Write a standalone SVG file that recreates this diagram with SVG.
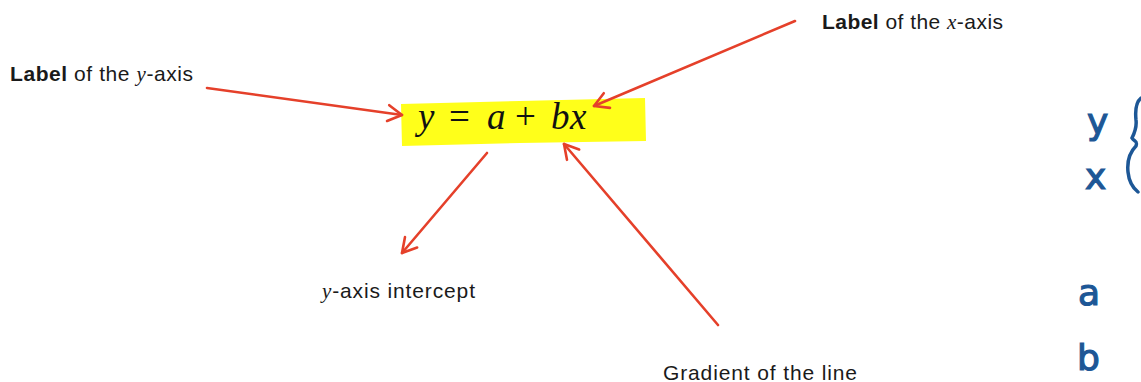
<svg xmlns="http://www.w3.org/2000/svg" width="1141" height="382" viewBox="0 0 1141 382">
<defs>
<style>
.lbl{font-family:"Liberation Sans",Arial,sans-serif;font-size:21px;fill:#1a1a1a}
.b{font-weight:bold}
.m{font-family:"Liberation Serif","Times New Roman",serif;font-style:italic}
.eq{font-family:"Liberation Serif","Times New Roman",serif;font-size:37px;fill:#111}
.arr{stroke:#e5402a;stroke-width:2.6;fill:none;stroke-linecap:round;marker-end:url(#ah)}
.hw{font-family:"DejaVu Sans",sans-serif;font-size:36px;fill:#1d5796;stroke:#1d5796;stroke-width:1.2}
</style>
<marker id="ah" viewBox="-16 -10 18 20" markerWidth="18" markerHeight="20" refX="0" refY="0" orient="auto" markerUnits="userSpaceOnUse">
<path d="M-14,-8 L0,0 L-14,8" fill="none" stroke="#e5402a" stroke-width="2.6" stroke-linecap="round" stroke-linejoin="round"/>
</marker>
</defs>
<rect width="1141" height="382" fill="#fff"/>

<g id="equation">
<path d="M401,104 L520,101 L645,98 L646,141 L520,143 L402,146 Z" fill="#ffff1a"/>
<text class="eq" y="129"><tspan class="m" x="418">y</tspan><tspan x="449">=</tspan><tspan class="m" x="487">a</tspan><tspan x="515">+</tspan><tspan class="m" x="551">b</tspan><tspan class="m" x="570">x</tspan></text>
</g>

<g id="label-y">
<text class="lbl" x="10" y="81" textLength="183" lengthAdjust="spacing"><tspan class="b">Label</tspan> of the <tspan class="m">y</tspan>-axis</text>
</g>
<g id="label-x">
<text class="lbl" x="822" y="29" textLength="181" lengthAdjust="spacing"><tspan class="b">Label</tspan> of the <tspan class="m">x</tspan>-axis</text>
</g>
<g id="intercept">
<text class="lbl" x="322" y="298" textLength="153" lengthAdjust="spacing"><tspan class="m">y</tspan>-axis intercept</text>
</g>
<g id="gradient">
<text class="lbl" x="663" y="380" textLength="194" lengthAdjust="spacing">Gradient of the line</text>
</g>

<g id="connectors">
<line class="arr" x1="207" y1="88" x2="402" y2="115"/>
<line class="arr" x1="795" y1="21" x2="594" y2="106"/>
<line class="arr" x1="487" y1="153" x2="402" y2="253"/>
<line class="arr" x1="718" y1="325" x2="564" y2="144"/>
</g>

<g id="handwritten">
<text class="hw" x="1087" y="134">y</text>
<text class="hw" x="1085" y="189">x</text>
<text class="hw" x="1078" y="305">a</text>
<text class="hw" x="1077" y="370">b</text>
<path d="M1141,98 C1136,102 1135,110 1136,120 C1137,128 1134,134 1132,138 C1134,142 1138,140 1136,146 C1130,152 1127,162 1128,172 C1129,182 1133,188 1138,192" fill="none" stroke="#1d5796" stroke-width="3.5" stroke-linecap="round"/>
</g>
</svg>
